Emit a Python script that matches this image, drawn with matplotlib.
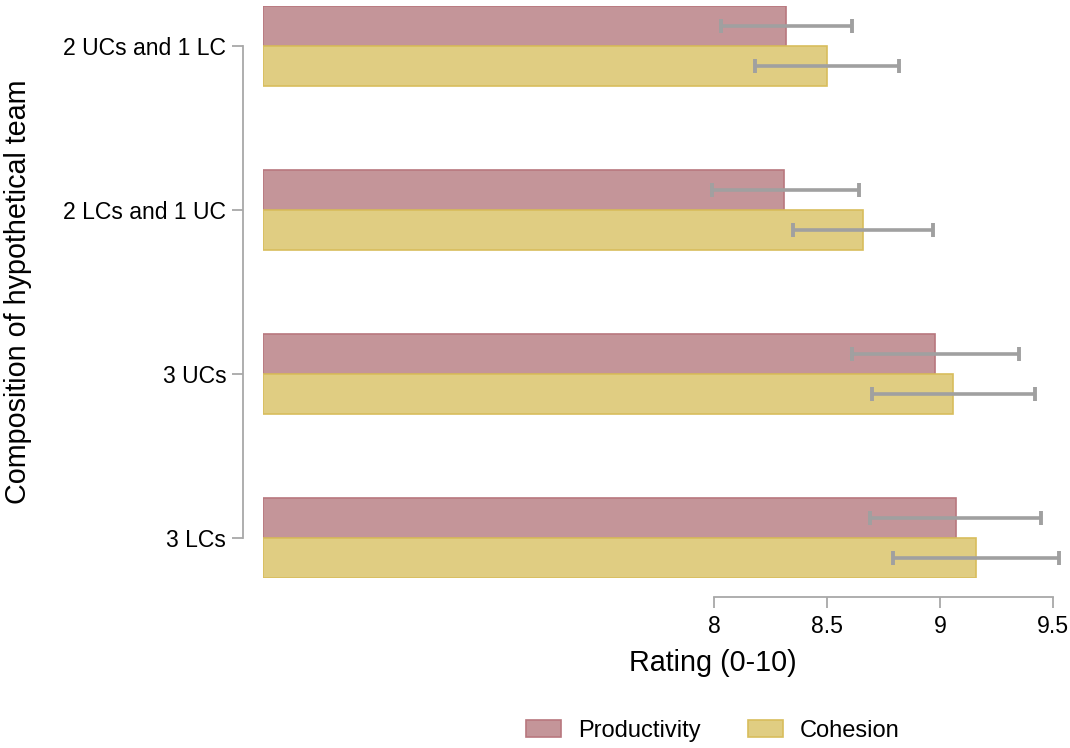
import matplotlib
matplotlib.use("Agg")
import matplotlib.pyplot as plt
from matplotlib.patches import Patch

# team compositions, top to bottom
teams = ["2 UCs and 1 LC", "2 LCs and 1 UC", "3 UCs", "3 LCs"]

prod_mean = [8.32, 8.31, 8.98, 9.07]
prod_lo = [8.03, 7.99, 8.61, 8.69]
prod_hi = [8.61, 8.64, 9.35, 9.45]

coh_mean = [8.50, 8.66, 9.06, 9.16]
coh_lo = [8.18, 8.35, 8.70, 8.79]
coh_hi = [8.82, 8.97, 9.42, 9.53]

xticks = [8, 8.5, 9, 9.5]

plt.rcParams['font.family'] = ['Liberation Sans', 'DejaVu Sans']

prod_fill, prod_edge = "#c49599", "#b8777e"
coh_fill, coh_edge = "#e0cd82", "#d8bd5c"
err_col = "#a0a0a0"
spine_col = "#a8a8a8"

fig = plt.figure(figsize=(10.7, 7.48), dpi=100)
ax = fig.add_axes([263/1070, 1 - 578/748, (1064 - 263)/1070, (578 - 6)/748])

base = 6.0
h = 0.244
ypos = list(range(len(teams)))
y_prod = [y - h/2 for y in ypos]
y_coh = [y + h/2 for y in ypos]

ax.barh(y_prod, [v - base for v in prod_mean], left=base, height=h,
        color=prod_fill, edgecolor=prod_edge, linewidth=1.2)
ax.barh(y_coh, [v - base for v in coh_mean], left=base, height=h,
        color=coh_fill, edgecolor=coh_edge, linewidth=1.2)

for ys, m, lo, hi in [(y_prod, prod_mean, prod_lo, prod_hi), (y_coh, coh_mean, coh_lo, coh_hi)]:
    xerr = [[a - b for a, b in zip(m, lo)], [b - a for a, b in zip(m, hi)]]
    ax.errorbar(m, ys, xerr=xerr, fmt="none", ecolor=err_col, elinewidth=2.6,
                capsize=5, capthick=2.8)

ax.set_xlim(base, 9.55)
ax.set_ylim(len(teams) - 1 + h, -h)

ax.set_yticks(ypos)
ax.set_yticklabels(teams)
ax.set_xticks(xticks)
ax.set_xticklabels(["8", "8.5", "9", "9.5"])

for s in ["top", "right"]:
    ax.spines[s].set_visible(False)
ax.spines["left"].set_position(("outward", 14.4))
ax.spines["bottom"].set_position(("outward", 13.7))
ax.spines["left"].set_bounds(0, len(teams) - 1)
ax.spines["bottom"].set_bounds(8, 9.5)
for s in ["left", "bottom"]:
    ax.spines[s].set_color(spine_col)
    ax.spines[s].set_linewidth(1.3)

ax.tick_params(axis="both", colors=spine_col, labelcolor="black", labelsize=16.6,
               length=8, width=1.3)
ax.tick_params(axis="y", pad=4)
ax.tick_params(axis="x", pad=5)

fig.text(18/1070, 1 - 292/748, "Composition of hypothetical team", rotation=90,
         ha="center", va="center", fontsize=20.7)
fig.text(713/1070, 1 - 663/748, "Rating (0-10)", ha="center", va="center", fontsize=20.7)

handles = [Patch(facecolor=prod_fill, edgecolor=prod_edge, linewidth=1.2),
           Patch(facecolor=coh_fill, edgecolor=coh_edge, linewidth=1.2)]
fig.legend(handles, ["Productivity", "Cohesion"], loc="center", ncol=2,
           bbox_to_anchor=(713/1070, 1 - 731/748), frameon=False, fontsize=17,
           handlelength=1.48, handleheight=0.72, handletextpad=0.72, columnspacing=2.0)

fig.savefig("out.png", dpi=100)
